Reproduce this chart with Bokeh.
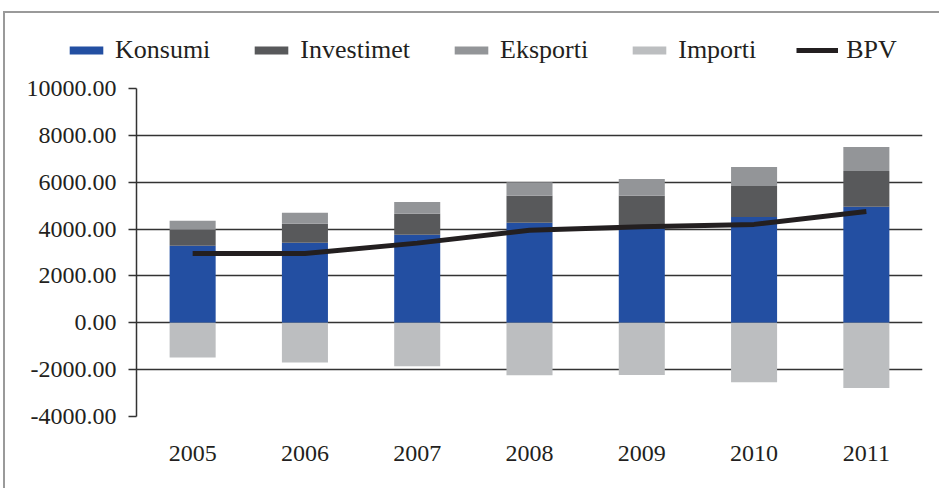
from bokeh.plotting import figure
from bokeh.layouts import column
from bokeh.models import (ColumnDataSource, Range1d, FactorRange, NumeralTickFormatter,
                          FixedTicker, Legend, LegendItem)
from bokeh.embed import file_html
from bokeh.resources import INLINE

years = ["2005", "2006", "2007", "2008", "2009", "2010", "2011"]
konsumi = [3290, 3420, 3760, 4270, 4140, 4520, 4950]
investimet = [680, 810, 890, 1150, 1280, 1320, 1530]
eksporti = [380, 470, 510, 580, 720, 810, 1020]
importi = [-1480, -1690, -1860, -2240, -2230, -2540, -2780]
bpv = [2960, 2960, 3400, 3950, 4100, 4200, 4750]
y_ticks = [-4000, -2000, 0, 2000, 4000, 6000, 8000, 10000]
series_names = ["Konsumi", "Investimet", "Eksporti", "Importi", "BPV"]

c_kon = "#234fa2"
c_inv = "#58595b"
c_eks = "#939598"
c_imp = "#bcbec0"
c_bpv = "#231f20"
FONT = "Liberation Serif"
TXT = "#231f20"

src = ColumnDataSource(dict(years=years, Konsumi=konsumi, Investimet=investimet,
                            Eksporti=eksporti, Importi=importi, BPV=bpv))

# ---- main chart ----
p = figure(width=934, height=418, x_range=FactorRange(*years, range_padding=0),
           y_range=Range1d(-4000, 10000), output_backend="svg", toolbar_location=None,
           min_border_left=131, min_border_right=17, min_border_top=18, min_border_bottom=72)
p.frame_align = False
p.outline_line_color = None
p.background_fill_color = "white"
p.border_fill_color = "white"

W = 0.41
p.vbar_stack(["Konsumi", "Investimet", "Eksporti"], x="years", width=W,
             color=[c_kon, c_inv, c_eks], source=src, line_color=None)
p.vbar(x="years", top="Importi", bottom=0, width=W, color=c_imp,
       line_color=None, source=src)
p.line(x="years", y="BPV", line_color=c_bpv, line_width=5, source=src)

p.yaxis.ticker = FixedTicker(ticks=y_ticks)
p.yaxis.formatter = NumeralTickFormatter(format="0.00")
p.yaxis.axis_line_color = "#333333"
p.yaxis.axis_line_width = 1.5
p.yaxis.major_tick_line_color = "#333333"
p.yaxis.major_tick_line_width = 1.5
p.yaxis.major_tick_out = 8
p.yaxis.major_tick_in = 0
p.yaxis.minor_tick_line_color = None
p.yaxis.major_label_standoff = 12
p.yaxis.major_label_text_font = FONT
p.yaxis.major_label_text_font_size = "24px"
p.yaxis.major_label_text_color = TXT

p.xaxis.axis_line_color = None
p.xaxis.major_tick_line_color = None
p.xaxis.minor_tick_line_color = None
p.xaxis.major_label_standoff = 23
p.xaxis.major_label_text_font = FONT
p.xaxis.major_label_text_font_size = "24px"
p.xaxis.major_label_text_color = TXT

p.xgrid.grid_line_color = None
p.ygrid.ticker = FixedTicker(ticks=y_ticks)
p.ygrid.grid_line_color = "#333333"
p.ygrid.grid_line_width = 1.5

# ---- legend strip (swatch renderers hold one point outside the visible range) ----
lg = figure(width=934, height=57, x_range=Range1d(0, 1), y_range=Range1d(0, 1),
            output_backend="svg", toolbar_location=None,
            min_border_left=0, min_border_right=0, min_border_top=0, min_border_bottom=0)
lg.frame_align = False
lg.axis.visible = False
lg.grid.visible = False
lg.outline_line_color = None
lg.border_fill_color = "white"
lg.background_fill_color = "white"
off = dict(x=[-5], top=[-5])
rk = lg.vbar(x="x", top="top", width=0.1, color=c_kon, line_color=None, source=ColumnDataSource(off))
ri = lg.vbar(x="x", top="top", width=0.1, color=c_inv, line_color=None, source=ColumnDataSource(off))
re_ = lg.vbar(x="x", top="top", width=0.1, color=c_eks, line_color=None, source=ColumnDataSource(off))
rm = lg.vbar(x="x", top="top", width=0.1, color=c_imp, line_color=None, source=ColumnDataSource(off))
rb = lg.line(x="x", y="top", line_color=c_bpv, line_width=5, source=ColumnDataSource(off))
items = [LegendItem(label=n, renderers=[r]) for n, r in zip(series_names, [rk, ri, re_, rm, rb])]
legend = Legend(items=items, orientation="horizontal", location=(60, 5),
                glyph_width=42, glyph_height=10, label_standoff=8, spacing=40,
                padding=0, margin=0, border_line_color=None, background_fill_alpha=0,
                label_text_font=FONT, label_text_font_size="26px",
                label_text_color=TXT)
lg.add_layout(legend, "center")

layout = column(lg, p, spacing=0, margin=(11, 0, 0, 3),
                styles={"border-top": "2px solid #9a9a9a", "border-left": "2px solid #9a9a9a",
                        "background-color": "white"})

open("out.html", "w").write(file_html(layout, INLINE))
